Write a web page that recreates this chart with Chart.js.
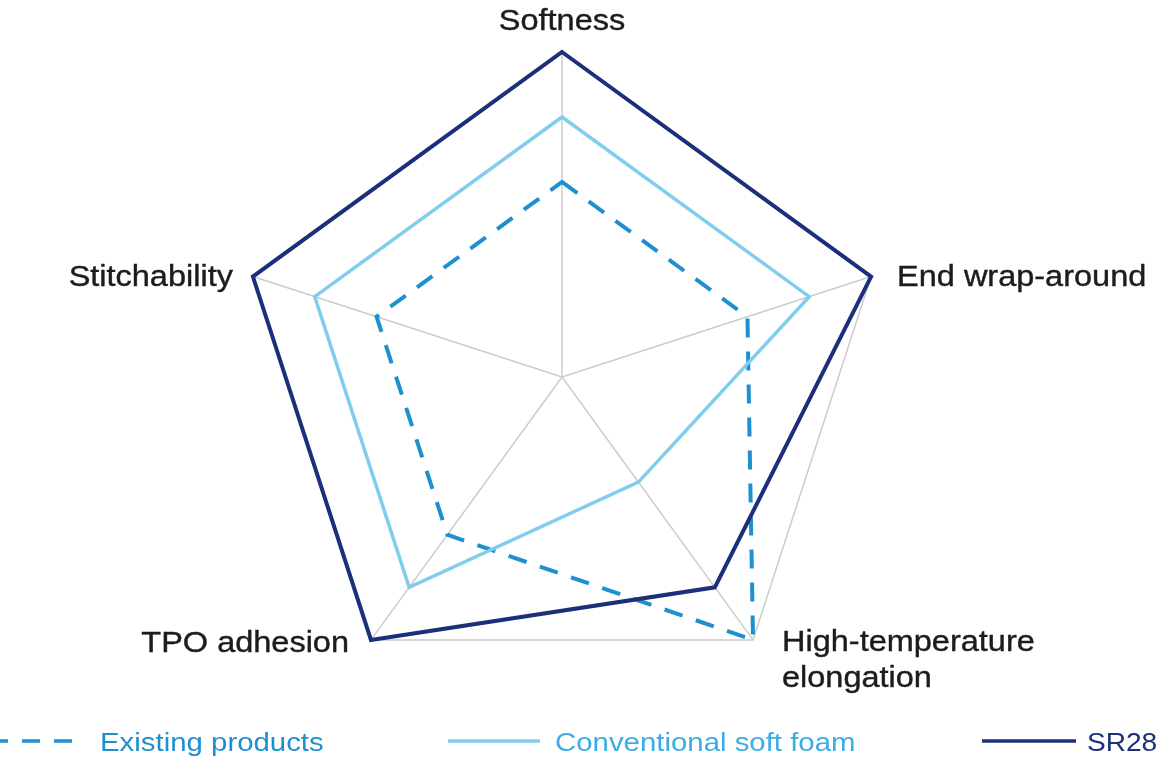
<!DOCTYPE html>
<html>
<head>
<meta charset="utf-8">
<script src="https://cdn.jsdelivr.net/npm/chart.js@4.4.1/dist/chart.umd.min.js"></script>
<style>
  html, body { margin: 0; padding: 0; background: #fff; }
  #wrap { position: relative; width: 1160px; height: 761px; overflow: hidden; }
  #radarCanvas { position: absolute; left: 0; top: 0; }
  .leg { position: absolute; top: 727px; font-family: "Liberation Sans", Arial, sans-serif;
         font-size: 26px; line-height: 30px; white-space: nowrap;
         transform: scaleX(1.13); transform-origin: left center; }
  svg.legline { position: absolute; top: 735px; }
</style>
</head>
<body>
<div id="wrap">
  <canvas id="radarCanvas" width="1160" height="761"></canvas>

  <svg class="legline" style="left:0" width="90" height="12">
    <line x1="-10" y1="6" x2="84" y2="6" stroke="#1e8fcf" stroke-width="3.5" stroke-dasharray="18 14"></line>
  </svg>
  <div class="leg" style="left:100px; color:#1e8fcf">Existing products</div>

  <svg class="legline" style="left:448px" width="94" height="12">
    <line x1="0" y1="6" x2="92" y2="6" stroke="#82cdee" stroke-width="3.5"></line>
  </svg>
  <div class="leg" style="left:555px; color:#3aaee2">Conventional soft foam</div>

  <svg class="legline" style="left:982px" width="96" height="12">
    <line x1="0" y1="6" x2="94" y2="6" stroke="#1b2f7a" stroke-width="3.5"></line>
  </svg>
  <div class="leg" style="left:1087px; color:#1b2f7a; transform: scaleX(1.08)">SR28</div>
</div>

<script>
const categories = [
  "Softness",
  "End wrap-around",
  ["High-temperature", "elongation"],
  "TPO adhesion",
  "Stitchability",
];
const existingProducts = [3, 3, 5, 3, 3];
const conventionalSoftFoam = [4, 4, 2, 4, 4];
const sr28 = [5, 5, 4, 5, 5];
const scaleMax = 5;

// label placement relative to each outer vertex: [dx, dy, align]
const labelOffsets = [
  [0, -22, "center"],
  [26, 9, "left"],
  [29, 11, "left"],
  [-22, 12, "right"],
  [-20, 9, "right"],
];

const pointLabelPlugin = {
  id: "pointLabelPlugin",
  afterDraw(chart) {
    const scale = chart.scales.r;
    const ctx = chart.ctx;
    const sx = 1.12;
    ctx.save();
    ctx.font = '29px "Liberation Sans", Arial, sans-serif';
    ctx.fillStyle = "#1f1b1c";
    ctx.strokeStyle = "#1f1b1c";
    ctx.lineWidth = 0.4;
    ctx.textBaseline = "alphabetic";
    categories.forEach((label, i) => {
      const pos = scale.getPointPosition(i, scale.drawingArea);
      const [dx, dy, align] = labelOffsets[i];
      const lines = Array.isArray(label) ? label : [label];
      lines.forEach((line, j) => {
        const w = ctx.measureText(line).width * sx;
        let x = pos.x + dx;
        if (align === "center") x -= w / 2;
        if (align === "right") x -= w;
        ctx.save();
        ctx.translate(x, pos.y + dy + j * 36);
        ctx.scale(sx, 1);
        ctx.textAlign = "left";
        ctx.fillText(line, 0, 0);
        ctx.strokeText(line, 0, 0);
        ctx.restore();
      });
    });
    ctx.restore();
  },
};

const ctx = document.getElementById("radarCanvas").getContext("2d");
new Chart(ctx, {
  type: "radar",
  data: {
    labels: categories,
    datasets: [
      {
        label: "SR28",
        data: sr28,
        borderColor: "#1b2f7a",
        borderWidth: 4,
        fill: false,
        pointRadius: 0,
        borderJoinStyle: "miter",
      },
      {
        label: "Conventional soft foam",
        data: conventionalSoftFoam,
        borderColor: "#82cdee",
        borderWidth: 3.5,
        fill: false,
        pointRadius: 0,
        borderJoinStyle: "miter",
      },
      {
        label: "Existing products",
        data: existingProducts,
        borderColor: "#1e8fcf",
        borderWidth: 4,
        borderDash: [19, 14],
        fill: false,
        pointRadius: 0,
        borderJoinStyle: "miter",
      },
    ],
  },
  options: {
    responsive: false,
    animation: false,
    layout: {
      padding: { left: 237, right: 273, top: 52, bottom: 59 },
    },
    plugins: {
      legend: { display: false },
      tooltip: { enabled: false },
    },
    scales: {
      r: {
        min: 0,
        max: scaleMax,
        ticks: { display: false, stepSize: scaleMax },
        pointLabels: { display: false },
        grid: { color: "#cccccc", lineWidth: 1.5 },
        angleLines: { color: "#cccccc", lineWidth: 1.5 },
      },
    },
  },
  plugins: [pointLabelPlugin],
});
</script>
</body>
</html>
